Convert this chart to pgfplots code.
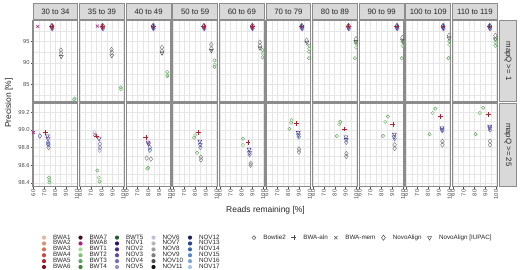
\documentclass[border=0pt]{standalone}
\usepackage{pgfplots}
\pgfplotsset{compat=1.18}
\usepgfplotslibrary{groupplots}
\usepackage{fontspec}
\setmainfont{Liberation Sans}
\definecolor{bwa1}{HTML}{E6B3A0}
\definecolor{bwa2}{HTML}{DE9275}
\definecolor{bwa3}{HTML}{D5705A}
\definecolor{bwa4}{HTML}{C74A42}
\definecolor{bwa5}{HTML}{AE2233}
\definecolor{bwa6}{HTML}{85101F}
\definecolor{bwa7}{HTML}{4A0A14}
\definecolor{bwa8}{HTML}{A8208C}
\definecolor{bwt1}{HTML}{A6D89A}
\definecolor{bwt2}{HTML}{80C277}
\definecolor{bwt3}{HTML}{5EA35E}
\definecolor{bwt4}{HTML}{3F833F}
\definecolor{bwt5}{HTML}{24622A}
\definecolor{nov1}{HTML}{2E1470}
\definecolor{nov2}{HTML}{45288A}
\definecolor{nov3}{HTML}{5F4BA6}
\definecolor{nov4}{HTML}{7B6DB8}
\definecolor{nov5}{HTML}{9A92C8}
\definecolor{nov6}{HTML}{C2BEE0}
\definecolor{nov7}{HTML}{B8B8B8}
\definecolor{nov8}{HTML}{9E9E9E}
\definecolor{nov9}{HTML}{7F7F7F}
\definecolor{nov10}{HTML}{4D4D4D}
\definecolor{nov11}{HTML}{141414}
\definecolor{nov12}{HTML}{1A2659}
\definecolor{nov13}{HTML}{27458E}
\definecolor{nov14}{HTML}{3A68AE}
\definecolor{nov15}{HTML}{5A8AC6}
\definecolor{nov16}{HTML}{7FA7D6}
\definecolor{nov17}{HTML}{A9C8E6}
\definecolor{borderc}{HTML}{8C8C8C}
\definecolor{stripc}{HTML}{D9D9D9}
\definecolor{gridc}{HTML}{E6E6E6}
\definecolor{tickc}{HTML}{4D4D4D}
\pgfplotsset{
  pt/.style={only marks, forget plot, line width=0.45bp},
  bt/.style={pt, mark=o, mark size=1.7bp, color=#1},
  ba/.style={pt, mark=+, mark size=2.4bp, line width=0.65bp, color=#1},
  bm/.style={pt, mark=x, mark size=2.1bp, line width=0.6bp, color=#1},
  nd/.style={pt, mark=diamond, mark size=2.4bp, color=#1},
  ni/.style={pt, mark=triangle, mark size=2.3bp, mark options={rotate=180}, color=#1},
  ldot/.style={legend image code/.code={\path[draw=none,fill=none] (-2.5bp,-2.8bp) rectangle (9bp,2.8bp); \fill[#1, draw=none] (0bp,0bp) circle (2.1bp);}},
  lshape/.style={legend image code/.code={\path[draw=none,fill=none] (-8bp,-2.8bp) rectangle (9.5bp,2.8bp); \draw[tickc, fill=none, line width=0.5bp] plot[only marks, #1] coordinates {(0bp,0bp)};}},
  panel/.style={scale only axis, width=44.8bp, xmin=59.6, xmax=100.9,
    xtick={60,70,80,90,100}, minor xtick={65,75,85,95},
    grid=both, major grid style={draw=gridc, line width=0.5bp},
    minor grid style={draw=gridc, line width=0.25bp},
    axis line style={draw=borderc, line width=1.1bp},
    tick align=outside, major tick length=2bp, minor tick length=0pt,
    tick style={tickc, line width=0.45bp},
    tickpos=left,
    tick label style={font=\fontsize{5.8}{6}\selectfont, text=tickc},
    /pgf/number format/assume math mode=true,
    xticklabel style={rotate=90, anchor=east, inner sep=1bp},
    yticklabel style={inner sep=1.2bp}},
  toprow/.style={panel, height=81bp, ymin=81, ymax=99.9, ytick={85,90,95},
    minor ytick={82.5,87.5,92.5,97.5}, xtick style={draw=none}, title={#1}},
  botrow/.style={panel, height=83.5bp, ymin=98.359, ymax=99.303,
    ytick={98.4,98.6,98.8,99.0,99.2}, minor ytick={98.5,98.7,98.9,99.1,99.3},
    yticklabel style={/pgf/number format/fixed, /pgf/number format/fixed zerofill, /pgf/number format/precision=1}},
  inner/.style={ytick style={draw=none}},
  legstyle/.style={legend columns=5, legend cell align=left,
    legend style={at={#1}, anchor=north west, draw=none, fill=none, inner sep=0pt, outer sep=0pt, row sep=0pt, column sep=0pt, font=\fontsize{6.3}{6.5}\selectfont, nodes={inner sep=0pt, text=black!85}}},
  every axis title/.style={at={(0.5,1)}, anchor=south, yshift=0.3bp, fill=stripc, draw=borderc, line width=0.8bp, minimum width=44.8bp, minimum height=16.5bp, inner sep=0pt, font=\fontsize{7.8}{8}\selectfont, text=black!85},
}
\begin{document}
\begin{tikzpicture}
\begin{groupplot}[group style={group size=10 by 2, horizontal sep=1.8bp, vertical sep=1.5bp, xticklabels at=edge bottom, yticklabels at=edge left, group name=group}]
% ---------------- top row (mapQ >= 1)
\nextgroupplot[toprow={30 to 34}]
\addplot[bm=bwa8] coordinates {(64,98.5)};
\addplot[nd=nov4] coordinates {(76.8,98.4)(77.4,98.0)};
\addplot[nd=nov13] coordinates {(77.1,98.7)};
\addplot[ni=nov2] coordinates {(77.2,98.2)};
\addplot[ba=bwa5] coordinates {(77.0,98.5)};
\addplot[nd=nov9] coordinates {(85.3,93.0)(85.5,92.3)};
\addplot[ni=nov10] coordinates {(85.6,91.5)};
\addplot[bt=bwt3] coordinates {(97.6,81.5)};
\addplot[bt=bwt2] coordinates {(97.9,81.7)};
\nextgroupplot[toprow={35 to 39}, inner]
\addplot[bm=bwa8] coordinates {(76,98.6)};
\addplot[nd=nov4] coordinates {(80.5,98.4)(81.1,98.0)};
\addplot[nd=nov13] coordinates {(80.8,98.7)};
\addplot[ni=nov2] coordinates {(80.9,98.2)};
\addplot[ba=bwa5] coordinates {(80.7,98.5)};
\addplot[nd=nov9] coordinates {(89.0,93.1)(89.2,92.5)};
\addplot[ni=nov10] coordinates {(89.3,91.7)};
\addplot[bt=bwt3] coordinates {(97.5,84.3)};
\addplot[bt=bwt2] coordinates {(97.8,83.9)};
\nextgroupplot[toprow={40 to 49}, inner]
\addplot[nd=nov4] coordinates {(84.2,98.4)(84.8,98.0)};
\addplot[nd=nov13] coordinates {(84.5,98.7)};
\addplot[ni=nov2] coordinates {(84.6,98.2)};
\addplot[ba=bwa5] coordinates {(84.4,98.5)};
\addplot[nd=nov9] coordinates {(92.5,93.6)(92.7,92.8)};
\addplot[ni=nov10] coordinates {(92.6,92.3)};
\addplot[bt=bwt3] coordinates {(97.3,87.9)(97.5,86.9)};
\addplot[bt=bwt2] coordinates {(97.6,87.2)};
\nextgroupplot[toprow={50 to 59}, inner]
\addplot[nd=nov4] coordinates {(88.0,98.4)(88.6,98.0)};
\addplot[nd=nov13] coordinates {(88.3,98.7)};
\addplot[ni=nov2] coordinates {(88.4,98.2)};
\addplot[ba=bwa5] coordinates {(88.2,98.5)};
\addplot[nd=nov9] coordinates {(95.0,94.3)(95.2,93.4)};
\addplot[ni=nov10] coordinates {(95.1,92.9)};
\addplot[bt=bwt3] coordinates {(98.0,90.6)(98.0,89.1)};
\addplot[bt=bwt2] coordinates {(98.2,89.6)};
\nextgroupplot[toprow={60 to 69}, inner]
\addplot[nd=nov4] coordinates {(89.6,98.4)(90.2,98.0)};
\addplot[nd=nov13] coordinates {(89.9,98.7)};
\addplot[ni=nov2] coordinates {(90.0,98.2)};
\addplot[ba=bwa5] coordinates {(89.8,98.5)};
\addplot[nd=nov9] coordinates {(96.8,94.8)(97.0,94.0)};
\addplot[ni=nov10] coordinates {(97.0,93.5)};
\addplot[bt=bwt3] coordinates {(99.3,93.0)(99.3,91.3)};
\addplot[bt=bwt2] coordinates {(99.5,92.2)};
\nextgroupplot[toprow={70 to 79}, inner]
\addplot[nd=nov4] coordinates {(92.3,98.4)(92.9,98.0)};
\addplot[nd=nov13] coordinates {(92.6,98.7)};
\addplot[ni=nov2] coordinates {(92.7,98.2)};
\addplot[ba=bwa5] coordinates {(92.5,98.6)};
\addplot[nd=nov9] coordinates {(97.0,95.3)};
\addplot[ni=nov10] coordinates {(97.2,94.8)};
\addplot[bt=bwt3] coordinates {(99.4,94.0)(99.3,92.6)(99.2,91.1)};
\addplot[bt=bwt2] coordinates {(99.4,93.3)};
\nextgroupplot[toprow={80 to 89}, inner]
\addplot[nd=nov4] coordinates {(92.4,98.4)(93.0,98.0)};
\addplot[nd=nov13] coordinates {(92.7,98.7)};
\addplot[ni=nov2] coordinates {(92.8,98.2)};
\addplot[ba=bwa5] coordinates {(92.6,98.6)};
\addplot[nd=nov9] coordinates {(99.6,95.6)};
\addplot[ni=nov10] coordinates {(99.5,95.0)};
\addplot[bt=bwt3] coordinates {(99.6,94.6)(98.6,91.1)};
\addplot[bt=bwt2] coordinates {(99.7,93.6)};
\nextgroupplot[toprow={90 to 99}, inner]
\addplot[nd=nov4] coordinates {(94.1,98.4)(94.7,98.0)};
\addplot[nd=nov13] coordinates {(94.4,98.7)};
\addplot[ni=nov2] coordinates {(94.5,98.2)};
\addplot[ba=bwa5] coordinates {(94.3,98.6)};
\addplot[nd=nov9] coordinates {(99.4,95.9)};
\addplot[ni=nov10] coordinates {(99.4,95.3)};
\addplot[bt=bwt3] coordinates {(99.5,94.9)(98.8,91.1)};
\addplot[bt=bwt2] coordinates {(99.5,94.0)};
\nextgroupplot[toprow={100 to 109}, inner]
\addplot[nd=nov4] coordinates {(93.7,98.4)(94.3,98.0)};
\addplot[nd=nov13] coordinates {(94.0,98.7)};
\addplot[ni=nov2] coordinates {(94.1,98.2)};
\addplot[ba=bwa5] coordinates {(93.9,98.6)};
\addplot[nd=nov9] coordinates {(99.5,96.4)};
\addplot[ni=nov10] coordinates {(99.5,95.8)};
\addplot[bt=bwt3] coordinates {(99.6,95.1)(98.9,91.1)};
\addplot[bt=bwt2] coordinates {(99.6,94.2)};
\nextgroupplot[toprow={110 to 119}, inner]
\addplot[nd=nov4] coordinates {(93.7,98.4)(94.3,98.0)};
\addplot[nd=nov13] coordinates {(94.0,98.7)};
\addplot[ni=nov2] coordinates {(94.1,98.2)};
\addplot[ba=bwa5] coordinates {(93.9,98.6)};
\addplot[nd=nov9] coordinates {(99.1,96.4)};
\addplot[ni=nov10] coordinates {(99.2,95.6)};
\addplot[bt=bwt3] coordinates {(99.2,95.5)(99.2,94.0)};
\addplot[bt=bwt2] coordinates {(99.3,94.8)};
% ---------------- bottom row (mapQ >= 25)
\nextgroupplot[botrow, legstyle={(0.19,-0.577)}]
\addplot[bm=bwa8] coordinates {(60.0,98.97)};
\addplot[nd=nov3] coordinates {(65.9,98.93)};
\addplot[ba=bwa5] coordinates {(71.0,98.97)};
\addplot[ni=nov2] coordinates {(72.9,98.93)(73.4,98.90)};
\addplot[nd=nov4] coordinates {(73.5,98.86)(73.8,98.83)};
\addplot[nd=nov9] coordinates {(74.0,98.80)};
\addplot[nd=nov14] coordinates {(73.6,98.84)};
\addplot[bt=bwt3] coordinates {(74.4,98.46)(74.8,98.405)};
\addplot[bt=bwt2] coordinates {(74.6,98.435)};
\addlegendimage{ldot=bwa1}\addlegendentry{\makebox[25bp][l]{BWA1}}
\addlegendimage{ldot=bwa7}\addlegendentry{\makebox[25bp][l]{BWA7}}
\addlegendimage{ldot=bwt5}\addlegendentry{\makebox[25bp][l]{BWT5}}
\addlegendimage{ldot=nov6}\addlegendentry{\makebox[25bp][l]{NOV6}}
\addlegendimage{ldot=nov12}\addlegendentry{\makebox[25bp][l]{NOV12}}
\addlegendimage{ldot=bwa2}\addlegendentry{\makebox[25bp][l]{BWA2}}
\addlegendimage{ldot=bwa8}\addlegendentry{\makebox[25bp][l]{BWA8}}
\addlegendimage{ldot=nov1}\addlegendentry{\makebox[25bp][l]{NOV1}}
\addlegendimage{ldot=nov7}\addlegendentry{\makebox[25bp][l]{NOV7}}
\addlegendimage{ldot=nov13}\addlegendentry{\makebox[25bp][l]{NOV13}}
\addlegendimage{ldot=bwa3}\addlegendentry{\makebox[25bp][l]{BWA3}}
\addlegendimage{ldot=bwt1}\addlegendentry{\makebox[25bp][l]{BWT1}}
\addlegendimage{ldot=nov2}\addlegendentry{\makebox[25bp][l]{NOV2}}
\addlegendimage{ldot=nov8}\addlegendentry{\makebox[25bp][l]{NOV8}}
\addlegendimage{ldot=nov14}\addlegendentry{\makebox[25bp][l]{NOV14}}
\addlegendimage{ldot=bwa4}\addlegendentry{\makebox[25bp][l]{BWA4}}
\addlegendimage{ldot=bwt2}\addlegendentry{\makebox[25bp][l]{BWT2}}
\addlegendimage{ldot=nov3}\addlegendentry{\makebox[25bp][l]{NOV3}}
\addlegendimage{ldot=nov9}\addlegendentry{\makebox[25bp][l]{NOV9}}
\addlegendimage{ldot=nov15}\addlegendentry{\makebox[25bp][l]{NOV15}}
\addlegendimage{ldot=bwa5}\addlegendentry{\makebox[25bp][l]{BWA5}}
\addlegendimage{ldot=bwt3}\addlegendentry{\makebox[25bp][l]{BWT3}}
\addlegendimage{ldot=nov4}\addlegendentry{\makebox[25bp][l]{NOV4}}
\addlegendimage{ldot=nov10}\addlegendentry{\makebox[25bp][l]{NOV10}}
\addlegendimage{ldot=nov16}\addlegendentry{\makebox[25bp][l]{NOV16}}
\addlegendimage{ldot=bwa6}\addlegendentry{\makebox[25bp][l]{BWA6}}
\addlegendimage{ldot=bwt4}\addlegendentry{\makebox[25bp][l]{BWT4}}
\addlegendimage{ldot=nov5}\addlegendentry{\makebox[25bp][l]{NOV5}}
\addlegendimage{ldot=nov11}\addlegendentry{\makebox[25bp][l]{NOV11}}
\addlegendimage{ldot=nov17}\addlegendentry{\makebox[25bp][l]{NOV17}}
\nextgroupplot[botrow, inner]
\addplot[bm=bwa8] coordinates {(73.6,98.95)};
\addplot[nd=nov6] coordinates {(73.2,98.97)};
\addplot[ba=bwa5] coordinates {(75.2,98.93)};
\addplot[ni=nov2] coordinates {(77.5,98.90)};
\addplot[nd=nov4] coordinates {(78.2,98.84)};
\addplot[nd=nov9] coordinates {(78.3,98.80)};
\addplot[nd=nov5] coordinates {(78.0,98.77)};
\addplot[bt=bwt3] coordinates {(76.0,98.54)(78.0,98.415)};
\addplot[bt=bwt2] coordinates {(77.3,98.46)};
\nextgroupplot[botrow, inner]
\addplot[ba=bwa5] coordinates {(77.7,98.91)};
\addplot[ni=nov2] coordinates {(79.8,98.86)(80.2,98.84)};
\addplot[nd=nov4] coordinates {(81.4,98.80)};
\addplot[nd=nov14] coordinates {(81.4,98.77)};
\addplot[nd=nov9] coordinates {(78.4,98.68)(82.3,98.67)};
\addplot[bt=bwt3] coordinates {(79.8,98.57)};
\addplot[bt=bwt2] coordinates {(78.9,98.56)};
\nextgroupplot[botrow, inner]
\addplot[ba=bwa5] coordinates {(83.0,98.97)};
\addplot[bt=bwt3] coordinates {(79.2,98.91)(82.0,98.74)};
\addplot[bt=bwt2] coordinates {(80.2,98.94)};
\addplot[ni=nov2] coordinates {(84.5,98.87)};
\addplot[ni=nov13] coordinates {(84.8,98.83)};
\addplot[nd=nov4] coordinates {(85.0,98.80)};
\addplot[nd=nov9] coordinates {(85.5,98.69)(85.5,98.66)};
\nextgroupplot[botrow, inner]
\addplot[bt=bwt3] coordinates {(81.4,98.90)};
\addplot[bt=bwt2] coordinates {(81.4,98.83)};
\addplot[ba=bwa5] coordinates {(86.0,98.86)};
\addplot[ni=nov2] coordinates {(87.0,98.78)};
\addplot[ni=nov13] coordinates {(87.3,98.74)};
\addplot[nd=nov4] coordinates {(87.5,98.72)};
\addplot[nd=nov9] coordinates {(88.5,98.62)(88.3,98.60)};
\nextgroupplot[botrow, inner]
\addplot[bt=bwt3] coordinates {(82.7,99.08)(81.2,99.01)};
\addplot[bt=bwt2] coordinates {(83.2,99.11)};
\addplot[ba=bwa5] coordinates {(87.8,99.07)};
\addplot[ni=nov2] coordinates {(89.3,98.97)};
\addplot[ni=nov13] coordinates {(89.5,98.94)};
\addplot[nd=nov4] coordinates {(89.8,98.92)};
\addplot[nd=nov9] coordinates {(90.0,98.78)(90.0,98.75)};
\nextgroupplot[botrow, inner, legstyle={(-1.487,-0.577)}]
\addplot[bt=bwt3] coordinates {(85.0,99.09)(82.0,98.93)};
\addplot[bt=bwt2] coordinates {(84.0,99.06)};
\addplot[ba=bwa5] coordinates {(89.2,99.01)};
\addplot[ni=nov2] coordinates {(90.3,98.92)};
\addplot[ni=nov13] coordinates {(90.5,98.89)};
\addplot[nd=nov4] coordinates {(90.6,98.86)};
\addplot[nd=nov9] coordinates {(90.8,98.73)(90.6,98.70)};
\addlegendimage{lshape={mark=o, mark size=1.9bp}}
\addlegendentry{Bowtie2}
\addlegendimage{lshape={mark=+, mark size=2.6bp}}
\addlegendentry{BWA-aln}
\addlegendimage{lshape={mark=x, mark size=2.3bp}}
\addlegendentry{BWA-mem}
\addlegendimage{lshape={mark=diamond, mark size=2.6bp}}
\addlegendentry{NovoAlign}
\addlegendimage{lshape={mark=triangle, mark size=2.4bp, mark options={rotate=180}}}
\addlegendentry{NovoAlign [IUPAC]}
\nextgroupplot[botrow, inner]
\addplot[bt=bwt3] coordinates {(86.0,99.15)(81.5,98.93)};
\addplot[bt=bwt2] coordinates {(83.6,99.09)};
\addplot[ba=bwa5] coordinates {(90.6,99.06)};
\addplot[ni=nov2] coordinates {(92.0,98.95)};
\addplot[ni=nov13] coordinates {(91.8,98.92)};
\addplot[nd=nov4] coordinates {(92.2,98.90)};
\addplot[nd=nov9] coordinates {(92.3,98.83)(92.3,98.79)};
\nextgroupplot[botrow, inner]
\addplot[bt=bwt3] coordinates {(86.8,99.24)(81.6,98.95)};
\addplot[bt=bwt2] coordinates {(84.4,99.19)};
\addplot[ba=bwa5] coordinates {(91.4,99.15)};
\addplot[ni=nov2] coordinates {(92.9,99.02)};
\addplot[ni=nov13] coordinates {(93.0,99.00)};
\addplot[nd=nov4] coordinates {(93.3,98.99)};
\addplot[nd=nov9] coordinates {(93.3,98.87)(93.3,98.83)};
\nextgroupplot[botrow, inner]
\addplot[bt=bwt3] coordinates {(87.9,99.25)(80.9,98.95)};
\addplot[bt=bwt2] coordinates {(84.8,99.19)};
\addplot[ba=bwa5] coordinates {(93.0,99.17)};
\addplot[ni=nov2] coordinates {(93.9,99.04)};
\addplot[ni=nov13] coordinates {(94.0,99.02)};
\addplot[nd=nov4] coordinates {(94.2,99.00)};
\addplot[nd=nov9] coordinates {(94.2,98.87)(94.2,98.83)};
\end{groupplot}
\node[rotate=-90, anchor=south, fill=stripc, draw=borderc, line width=0.8bp, minimum width=81bp, minimum height=17bp, inner sep=0pt, font=\fontsize{7.8}{8}\selectfont, text=black!85] at ([xshift=1.8bp]group c10r1.east) {mapQ >= 1};
\node[rotate=-90, anchor=south, fill=stripc, draw=borderc, line width=0.8bp, minimum width=83.5bp, minimum height=17bp, inner sep=0pt, font=\fontsize{7.8}{8}\selectfont, text=black!85] at ([xshift=1.8bp]group c10r2.east) {mapQ >= 25};
\node[rotate=90, font=\fontsize{8.5}{9}\selectfont, text=black!85] at ([xshift=-24bp, yshift=-82.7bp]group c1r1.north west) {Precision [\%]};
\node[font=\fontsize{8.5}{9}\selectfont, text=black!85] at ([xshift=232.5bp, yshift=-24bp]group c1r2.south west) {Reads remaining [\%]};
\pgfresetboundingbox
\path[use as bounding box] ([xshift=-33bp, yshift=20.5bp]group c1r1.north west) rectangle ++(520bp,-270bp);
\end{tikzpicture}
\end{document}
